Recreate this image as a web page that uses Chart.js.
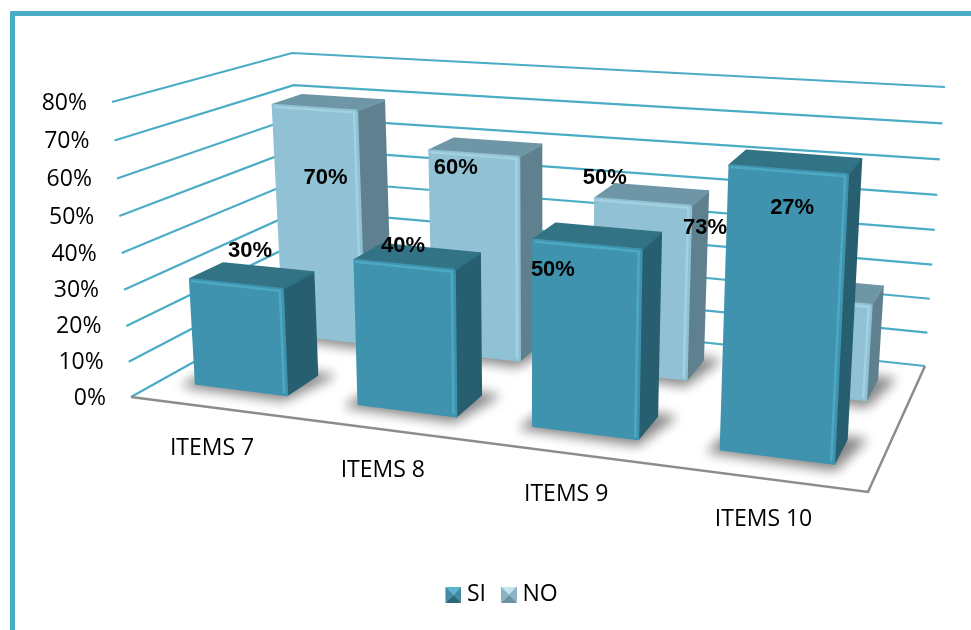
<!DOCTYPE html>
<html>
<head>
<meta charset="utf-8">
<title>Items</title>
<script src="https://cdn.jsdelivr.net/npm/chart.js@4"></script>
<style>
    body { margin: 0; background: #fff; }
    #marco { position: absolute; left: 10px; top: 11px; right: 0; bottom: 0; border-left: 5px solid #4bacc6; border-top: 5px solid #4bacc6; border-top-left-radius: 2px; }
    #grafica { position: absolute; left: 0; top: 0; }
</style>
</head>
<body>
<div id="marco"></div>
<canvas id="grafica" width="971" height="630"></canvas>
<script>
// datos
const categorias = ['ITEMS 7', 'ITEMS 8', 'ITEMS 9', 'ITEMS 10'];
const valoresSi = [30, 40, 50, 73];
const valoresNo = [70, 60, 50, 27];
const etiquetasSi = ['30%', '40%', '50%', '27%'];
const etiquetasNo = ['70%', '60%', '50%', '73%'];

// desplazamiento de cada etiqueta respecto al centro del frente superior de su barra
const despSi = [[14, -33], [-1, -19], [-34, 26], [4, 38]];
const despNo = [[11, 70], [-18, 14], [-38, -24], [-115, -72]];

// perspectiva: esquinas de la caja (suelo y 80%)
const suelo = { fl: [131, 397], fr: [868, 492], br: [925, 366], bl: [305, 300] };
const techo = { fl: [112, 102], fr: [885, 162], br: [945, 87], bl: [292, 53] };
const fuga = 1.156;
const fugaAltura = 1.05;
const fondoSi = [0.18, 0.376];
const fondoNo = [0.69, 0.86];
const corrimientoNo = 0.0015;

const colorSi = { frente: '#3f93ae', luz: 'rgba(90,185,212,0.55)', arriba: '#327385', lado: '#285f70', ladoLuz: '#2f7084' };
const colorNo = { frente: '#90c1d4', luz: 'rgba(185,228,242,0.45)', arriba: '#6e96a6', lado: '#5f808e', ladoLuz: '#7299a8' };

function mezcla(a, b, t) {
    return [a[0] + (b[0] - a[0]) * t, a[1] + (b[1] - a[1]) * t];
}

// t: posicion horizontal 0-1, w: fondo 0-1, h: altura 0-1
function proyectar(t, w, h) {
    const u = t / (t + fuga * (1 - t));
    const s = h / (h + fugaAltura * (1 - h));
    const abajo = mezcla(mezcla(suelo.fl, suelo.fr, u), mezcla(suelo.bl, suelo.br, u), w);
    const arriba = mezcla(mezcla(techo.fl, techo.fr, u), mezcla(techo.bl, techo.br, u), w);
    return mezcla(abajo, arriba, s);
}

function poligono(ctx, puntos, relleno) {
    ctx.beginPath();
    puntos.forEach(function (p, i) {
        if (i == 0) ctx.moveTo(p[0], p[1]);
        else ctx.lineTo(p[0], p[1]);
    });
    ctx.closePath();
    ctx.fillStyle = relleno;
    ctx.strokeStyle = relleno;
    ctx.lineWidth = 2;
    ctx.lineJoin = 'round';
    ctx.fill();
    ctx.stroke();
}

function linea(ctx, puntos, color, ancho) {
    ctx.beginPath();
    puntos.forEach(function (p, i) {
        if (i == 0) ctx.moveTo(p[0], p[1]);
        else ctx.lineTo(p[0], p[1]);
    });
    ctx.strokeStyle = color;
    ctx.lineWidth = ancho;
    ctx.stroke();
}

function dibujarBarra(ctx, t0, t1, h, fondo, c) {
    const w0 = fondo[0], w1 = fondo[1];

    // sombra en el suelo
    ctx.save();
    ctx.filter = 'blur(6px)';
    poligono(ctx, [
        proyectar(t0 - 0.012, w0 - 0.025, 0), proyectar(t1 + 0.004, w0 - 0.04, 0),
        proyectar(t1 + 0.022, w1 + 0.01, 0), proyectar(t0, w1, 0)
    ], 'rgba(50,50,50,0.6)');
    ctx.restore();

    const a = proyectar(t0, w0, 0), b = proyectar(t1, w0, 0), d = proyectar(t1, w1, 0);
    const e = proyectar(t0, w0, h), f = proyectar(t1, w0, h), g = proyectar(t1, w1, h), i = proyectar(t0, w1, h);

    poligono(ctx, [b, d, g, f], c.lado);
    poligono(ctx, [e, f, g, i], c.arriba);
    poligono(ctx, [a, b, f, e], c.frente);

    // brillos de los bordes
    linea(ctx, [[e[0] + 1, e[1] + 2], [f[0] - 3, f[1] + 2], [b[0] - 3, b[1] - 2]], c.luz, 2.5);
    linea(ctx, [f, g], c.ladoLuz, 2);
}

const perspectiva3d = {
    id: 'perspectiva3d',
    beforeDatasetsDraw(chart) {
        const ctx = chart.ctx;
        const area = chart.chartArea;
        const ejeX = chart.scales.x;
        const ejeY = chart.scales.y;
        const altura = function (v) { return (area.bottom - v) / (area.bottom - area.top); };
        const horiz = function (v) { return (v - area.left) / (area.right - area.left); };

        ctx.save();

        // lineas de la cuadricula y marcas del eje
        ctx.font = '23px "Open Sans"';
        ctx.textAlign = 'right';
        ctx.textBaseline = 'middle';
        ejeY.ticks.forEach(function (tick) {
            const h = altura(ejeY.getPixelForValue(tick.value));
            linea(ctx, [proyectar(0, 0, h), proyectar(0, 1, h), proyectar(1, 1, h)], '#4bacc6', 2.2);
            const p = proyectar(0, 0, h);
            ctx.fillStyle = '#000';
            ctx.fillText(tick.label, p[0] - 25, p[1] + 1);
        });

        // bordes del suelo
        linea(ctx, [proyectar(0, 0, 0), proyectar(1, 0, 0), proyectar(1, 1, 0)], '#8c8c8c', 2.5);

        // nombres de las categorias
        ctx.textAlign = 'center';
        ctx.fillStyle = '#000';
        categorias.forEach(function (nombre, i) {
            const p = proyectar(horiz(ejeX.getPixelForTick(i)), 0, 0);
            ctx.fillText(nombre, p[0], p[1] + 41);
        });

        // barras: primero las de atras
        const orden = [
            { indice: 1, fondo: fondoNo, color: colorNo, corre: corrimientoNo },
            { indice: 0, fondo: fondoSi, color: colorSi, corre: 0 }
        ];
        orden.forEach(function (serie) {
            chart.getDatasetMeta(serie.indice).data.forEach(function (barra) {
                const t0 = horiz(barra.x - barra.width / 2) + serie.corre;
                const t1 = horiz(barra.x + barra.width / 2) + serie.corre;
                dibujarBarra(ctx, t0, t1, altura(barra.y), serie.fondo, serie.color);
            });
        });

        // etiquetas de datos
        ctx.font = 'bold 22px "Liberation Sans"';
        ctx.fillStyle = '#000';
        [[0, etiquetasSi, despSi, fondoSi, 0], [1, etiquetasNo, despNo, fondoNo, corrimientoNo]].forEach(function (s) {
            chart.getDatasetMeta(s[0]).data.forEach(function (barra, i) {
                const p = proyectar(horiz(barra.x) + s[4], s[3][0], altura(barra.y));
                ctx.fillText(s[1][i], p[0] + s[2][i][0], p[1] + s[2][i][1]);
            });
        });

        ctx.restore();
        return false;
    }
};

// icono biselado de la leyenda (el hueco de la izquierda lo acerca al texto)
function icono(caras) {
    const c = document.createElement('canvas');
    c.width = 28;
    c.height = 16;
    const x = c.getContext('2d');
    x.translate(12, 0);
    const tri = function (p, color) {
        x.beginPath();
        x.moveTo(p[0], p[1]);
        x.lineTo(p[2], p[3]);
        x.lineTo(8, 8);
        x.closePath();
        x.fillStyle = color;
        x.fill();
    };
    tri([0, 0, 16, 0], caras[0]);
    tri([16, 0, 16, 16], caras[1]);
    tri([16, 16, 0, 16], caras[2]);
    tri([0, 16, 0, 0], caras[1]);
    return c;
}

const iconos = [
    icono(['#5ab6d0', '#3d8ba4', '#2c6679']),
    icono(['#c3e5ef', '#8ab4c3', '#6c93a2'])
];

new Chart(document.getElementById('grafica').getContext('2d'), {
    type: 'bar',
    plugins: [perspectiva3d],
    data: {
        labels: categorias,
        datasets: [{
            label: 'SI',
            data: valoresSi,
            backgroundColor: colorSi.frente,
            grouped: false,
            categoryPercentage: 1,
            barPercentage: 0.57
        }, {
            label: 'NO',
            data: valoresNo,
            backgroundColor: colorNo.frente,
            grouped: false,
            categoryPercentage: 1,
            barPercentage: 0.55
        }]
    },
    options: {
        responsive: false,
        animation: false,
        layout: { padding: { left: 26, right: 0, top: 20, bottom: 14 } },
        scales: {
            x: { display: false },
            y: {
                display: false,
                min: 0,
                max: 80,
                ticks: { stepSize: 10, callback: function (v) { return v + '%'; } }
            }
        },
        plugins: {
            tooltip: { enabled: false },
            legend: {
                position: 'bottom',
                labels: {
                    usePointStyle: true,
                    pointStyleWidth: 16,
                    boxHeight: 16,
                    padding: 9,
                    color: '#000',
                    font: { family: 'Open Sans', size: 23 },
                    generateLabels: function (chart) {
                        return chart.data.datasets.map(function (d, i) {
                            return { text: d.label, datasetIndex: i, pointStyle: iconos[i], fontColor: '#000', lineWidth: 0 };
                        });
                    }
                }
            }
        }
    }
});
</script>
</body>
</html>
